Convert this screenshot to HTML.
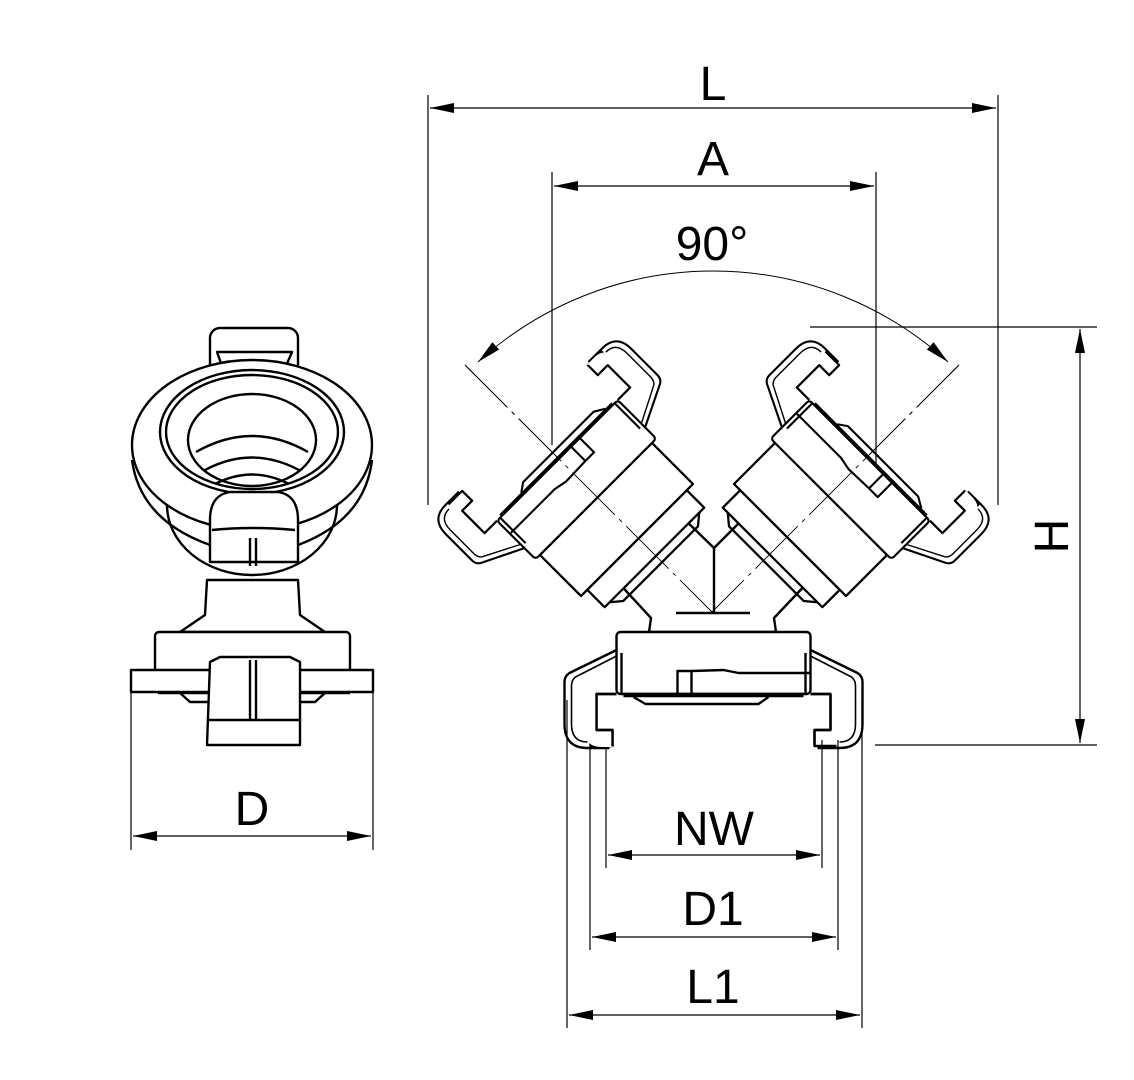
<!DOCTYPE html>
<html><head><meta charset="utf-8"><style>
html,body{margin:0;padding:0;background:#fff;}
svg{display:block}
text{font-family:"Liberation Sans",sans-serif;font-size:48px;fill:#000;text-anchor:middle}
</style></head><body>
<svg width="1134" height="1080" viewBox="0 0 1134 1080" xmlns="http://www.w3.org/2000/svg">
<defs>
<marker id="ar" viewBox="0 0 24 10" refX="24" refY="5" markerWidth="24" markerHeight="10" markerUnits="userSpaceOnUse" orient="auto-start-reverse">
<path d="M0 0 L24 5 L0 10 Z" fill="#000"/>
</marker>
<g id="cp" fill="#fff" stroke="#000" stroke-width="2.4" stroke-linejoin="round">
  <!-- outer arms -->
  <path d="M-97 -96 L-144 -73 Q-149 -70 -149 -64 L-149 -22 Q-149 2 -126 2 L-104 2" fill="none"/>
  <path d="M-97 -90 L-138 -69 Q-142 -66 -142 -60 L-142 -22 Q-142 -4 -126 -4" fill="none" stroke-width="1.6"/>
  <path d="M97 -96 L144 -73 Q149 -70 149 -64 L149 -22 Q149 2 126 2 L104 2" fill="none"/>
  <path d="M97 -90 L138 -69 Q142 -66 142 -60 L142 -22 Q142 -4 126 -4" fill="none" stroke-width="1.6"/>
  <!-- body -->
  <rect x="-97" y="-114" width="194" height="62" rx="4"/>
  <path d="M-92 -93 L-92 -52 M92 -93 L92 -52" fill="none"/>
  <path d="M-36 -52 L-36 -75 L-22 -75 L10 -76 L25 -73 L97 -73 M-22 -75 L-22 -52" fill="none"/>
  <!-- claw frame -->
  <path d="M-97 -52 L-117 -52 L-117 -16 L-101 -16 L-101 0 L-123 0 L-123 -5 M97 -52 L117 -52 L117 -16 L101 -16 L101 0 L123 0" fill="none"/>
  <path d="M-117 -52 L-117 -14 L-101 -14 L-101 1 L-112 1 Q-128 1 -128 -14 L-128 -52 Z" fill="#fff" stroke="none"/>
  <path d="M-97 -52 L-117 -52 L-117 -16 L-101 -16 L-101 0" fill="none"/>
  <path d="M97 -52 L117 -52 L117 -16 L101 -16 L101 0" fill="none"/>
  <!-- gasket -->
  <path d="M-90 -51 L90 -51" stroke-width="4.5"/>
  <path d="M-80 -49 L-68 -42 L45 -42 L55 -49" fill="none"/>
</g>
</defs>

<!-- dimension lines -->
<g stroke="#000" stroke-width="1.2" fill="none">
  <line x1="428" y1="95" x2="428" y2="505"/>
  <line x1="998" y1="95" x2="998" y2="505"/>
  <line x1="430" y1="108" x2="996" y2="108" marker-start="url(#ar)" marker-end="url(#ar)"/>
  <line x1="552" y1="172" x2="552" y2="445"/>
  <line x1="876" y1="172" x2="876" y2="470"/>
  <line x1="554" y1="186" x2="874" y2="186" marker-start="url(#ar)" marker-end="url(#ar)"/>
  <path d="M478 362 A349 349 0 0 1 948 362" marker-start="url(#ar)" marker-end="url(#ar)" stroke-width="1"/>
  <line x1="465" y1="365" x2="712" y2="612" stroke-width="0.9" stroke-dasharray="60 6 4 6"/>
  <line x1="959" y1="365" x2="712" y2="612" stroke-width="0.9" stroke-dasharray="60 6 4 6"/>
  <line x1="810" y1="327" x2="1097" y2="327"/>
  <line x1="875" y1="745" x2="1097" y2="745"/>
  <line x1="1080" y1="329" x2="1080" y2="743" marker-start="url(#ar)" marker-end="url(#ar)"/>
  <line x1="131" y1="670" x2="131" y2="850"/>
  <line x1="373" y1="670" x2="373" y2="850"/>
  <line x1="133" y1="836" x2="371" y2="836" marker-start="url(#ar)" marker-end="url(#ar)"/>
  <line x1="567" y1="700" x2="567" y2="1028"/>
  <line x1="590" y1="740" x2="590" y2="950"/>
  <line x1="606" y1="740" x2="606" y2="868"/>
  <line x1="862" y1="700" x2="862" y2="1028"/>
  <line x1="838" y1="740" x2="838" y2="950"/>
  <line x1="822" y1="740" x2="822" y2="868"/>
  <line x1="608" y1="855" x2="820" y2="855" marker-start="url(#ar)" marker-end="url(#ar)"/>
  <line x1="592" y1="937" x2="836" y2="937" marker-start="url(#ar)" marker-end="url(#ar)"/>
  <line x1="569" y1="1015" x2="860" y2="1015" marker-start="url(#ar)" marker-end="url(#ar)"/>
</g>

<!-- Y body -->
<g fill="#fff" stroke="#000" stroke-width="2.4" stroke-linejoin="round">
  <path d="M616 580 L651 618 L649 632 L776 632 L774 618 L810 580 L747 515 L714 548 L680 515 Z"/>
  <line x1="714" y1="548" x2="714" y2="613"/>
  <line x1="676" y1="613" x2="750" y2="613"/>
</g>

<!-- upper couplings -->
<g transform="translate(525,428) rotate(135) scale(0.88)">
  <g fill="#fff" stroke="#000" stroke-width="2.6" stroke-linejoin="round">
    <path d="M-80 -180 L-80 -208 L80 -208 L80 -180 Z"/>
    <path d="M-72 -208 L-60 -218 L60 -218 L72 -208" fill="none"/>
    <rect x="-90" y="-180" width="180" height="66"/>
  </g>
  <use href="#cp"/>
</g>
<g transform="translate(902,428) rotate(-135) scale(0.88)">
  <g fill="#fff" stroke="#000" stroke-width="2.6" stroke-linejoin="round">
    <path d="M-80 -180 L-80 -208 L80 -208 L80 -180 Z"/>
    <path d="M-72 -208 L-60 -218 L60 -218 L72 -208" fill="none"/>
    <rect x="-90" y="-180" width="180" height="66"/>
  </g>
  <use href="#cp"/>
</g>
<line x1="465" y1="365" x2="712" y2="612" stroke="#000" stroke-width="0.9" stroke-dasharray="60 6 4 6"/>
<line x1="959" y1="365" x2="712" y2="612" stroke="#000" stroke-width="0.9" stroke-dasharray="60 6 4 6"/>

<!-- bottom coupling -->
<g transform="translate(713.5,746)"><use href="#cp"/></g>

<!-- left view -->
<g fill="#fff" stroke="#000" stroke-width="2.4" stroke-linejoin="round">
  <path d="M207 580 L205 615 L180 632 L325 632 L300 615 L298 580 Z"/>
  <rect x="155" y="632" width="195" height="40" rx="4"/>
  <rect x="131" y="670" width="242" height="22"/>
  <path d="M158 693 L350 693 M180 693 L190 702 L315 702 L325 693" fill="none"/>
  <ellipse cx="252" cy="505" rx="85" ry="70"/>
  <rect x="210" y="328" width="88" height="60" rx="10"/>
  <path d="M217 352 L292 352 L286 366 L222 366 Z" fill="none"/>
  <ellipse cx="252" cy="445" rx="120" ry="85"/>
  <path d="M132 460 Q140 520 210 545 M372 460 Q365 520 298 545" fill="none"/>
  <ellipse cx="252" cy="432" rx="92" ry="62"/>
  <ellipse cx="252" cy="432" rx="86" ry="57" fill="none"/>
  <ellipse cx="252" cy="440" rx="64" ry="46"/>
  <path d="M196 452 Q252 420 308 452 M205 470 Q252 445 299 470 M215 484 Q252 465 289 484" fill="none"/>
  <path d="M210 520 Q210 495 230 492 L278 492 Q298 495 298 520 L298 562 L210 562 Z"/>
  <path d="M212 530 Q252 526 295 530 M250 538 L250 566 M256 538 L256 566" fill="none"/>
  <path d="M210 662 L220 657 L290 657 L300 662 L300 745 L207 745 Z"/>
  <path d="M207 720 L300 720 M250 660 L250 720 M256 660 L256 720" fill="none"/>
</g>

<!-- labels -->
<text x="713" y="100">L</text>
<text x="713" y="175">A</text>
<text x="712" y="260">90°</text>
<text x="252" y="825">D</text>
<text x="714" y="845">NW</text>
<text x="713" y="925">D1</text>
<text x="713" y="1003">L1</text>
<text transform="translate(1068,536) rotate(-90)">H</text>
</svg>
</body></html>
